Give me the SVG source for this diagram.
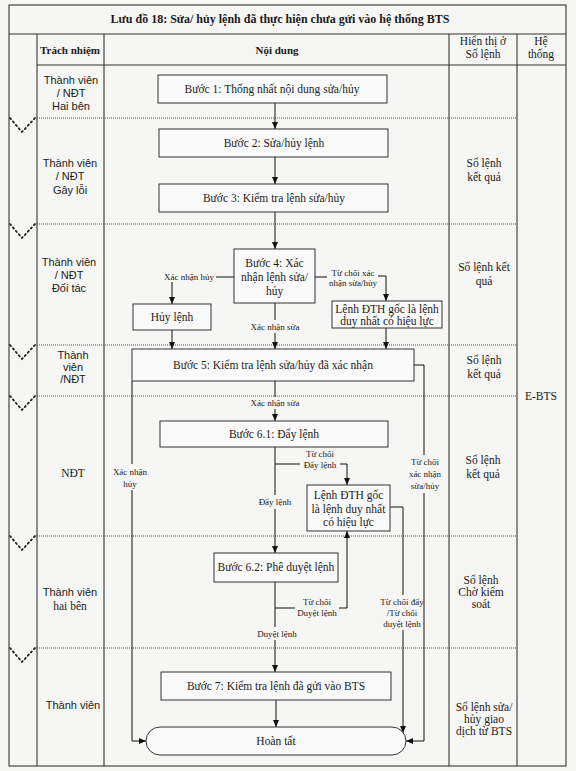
<svg xmlns="http://www.w3.org/2000/svg" width="576" height="771" viewBox="0 0 576 771">
<defs>
<marker id="arr" markerUnits="userSpaceOnUse" markerWidth="7" markerHeight="6" refX="7" refY="3" orient="auto">
<path d="M0,0 L7,3 L0,6 z" fill="#111"/>
</marker>
</defs>
<style>
.frame{fill:none;stroke:#333;stroke-width:1.1}
.row{fill:none;stroke:#555;stroke-width:1;stroke-dasharray:1 1}
.zig{fill:none;stroke:#222;stroke-width:1.8;stroke-dasharray:1.5 3;stroke-linecap:round}
.box{fill:#fafafa;stroke:#333;stroke-width:1}
.ln{fill:none;stroke:#111;stroke-width:1}
.a{marker-end:url(#arr)}
.t{font-family:"Liberation Serif","Times New Roman",serif;font-size:11.5px;fill:#1a1a1a;text-anchor:middle}
.s{font-family:"Liberation Serif","Times New Roman",serif;font-size:9px;fill:#1a1a1a;text-anchor:middle}
.c{font-family:"Liberation Sans",Arial,sans-serif;font-size:11px;fill:#1a1a1a;text-anchor:middle}
.cs{font-family:"Liberation Serif","Times New Roman",serif;font-size:11.5px;fill:#1a1a1a;text-anchor:middle}
.h{font-family:"Liberation Serif","Times New Roman",serif;font-size:11px;font-weight:bold;fill:#1a1a1a;text-anchor:middle}
.hr{font-family:"Liberation Serif","Times New Roman",serif;font-size:11.5px;fill:#1a1a1a;text-anchor:middle}
.ti{font-family:"Liberation Serif","Times New Roman",serif;font-size:12px;font-weight:bold;fill:#1a1a1a;text-anchor:middle}
</style>
<rect width="576" height="771" fill="#f6f6f4"/>
<g id="table">
<rect class="frame" x="9" y="5" width="557" height="761"/>
<line class="frame" x1="9" y1="34" x2="566" y2="34"/>
<line class="frame" x1="37" y1="65" x2="566" y2="65"/>
<line class="frame" x1="37" y1="34" x2="37" y2="766"/>
<line class="frame" x1="104" y1="34" x2="104" y2="766"/>
<line class="frame" x1="449" y1="34" x2="449" y2="766"/>
<line class="frame" x1="517" y1="34" x2="517" y2="766"/>
<line class="row" x1="37" y1="118" x2="517" y2="118"/>
<line class="row" x1="37" y1="224" x2="517" y2="224"/>
<line class="row" x1="37" y1="345" x2="517" y2="345"/>
<line class="row" x1="37" y1="396" x2="517" y2="396"/>
<line class="row" x1="37" y1="536" x2="517" y2="536"/>
<line class="row" x1="37" y1="648" x2="517" y2="648"/>
<polyline class="zig" points="10,118 22,132 35,118"/>
<polyline class="zig" points="10,224 22,238 35,224"/>
<polyline class="zig" points="10,345 22,359 35,345"/>
<polyline class="zig" points="10,396 22,410 35,396"/>
<polyline class="zig" points="10,536 22,550 35,536"/>
<polyline class="zig" points="10,648 22,662 35,648"/>
<text class="ti" x="280" y="23">Lưu đồ 18: Sửa/ hủy lệnh đã thực hiện chưa gửi vào hệ thống BTS</text>
<text class="h" x="70" y="54">Trách nhiệm</text>
<text class="h" x="277" y="54">Nội dung</text>
<text class="hr" x="483" y="45">Hiển thị ở</text>
<text class="hr" x="483" y="58">Số lệnh</text>
<text class="hr" x="541" y="45">Hệ</text>
<text class="hr" x="541" y="58">thống</text>
<text class="c" x="71" y="84">Thành viên</text>
<text class="c" x="71" y="97">/ NĐT</text>
<text class="c" x="71" y="110">Hai bên</text>
<text class="c" x="70" y="167">Thành viên</text>
<text class="c" x="70" y="180">/ NĐT</text>
<text class="c" x="70" y="194">Gây lỗi</text>
<text class="c" x="69" y="266">Thành viên</text>
<text class="c" x="69" y="279">/ NĐT</text>
<text class="c" x="69" y="292">Đối tác</text>
<text class="c" x="73" y="359">Thành</text>
<text class="c" x="73" y="371">viên</text>
<text class="c" x="73" y="383">/NĐT</text>
<text class="cs" x="73" y="477">NĐT</text>
<text class="c" x="70" y="596">Thành viên</text>
<text class="cs" x="70" y="610">hai bên</text>
<text class="c" x="73" y="709">Thành viên</text>
<text class="cs" x="484" y="167">Sổ lệnh</text>
<text class="cs" x="484" y="181">kết quả</text>
<text class="cs" x="484" y="271">Sổ lệnh kết</text>
<text class="cs" x="484" y="285">quả</text>
<text class="cs" x="484" y="364">Sổ lệnh</text>
<text class="cs" x="484" y="378">kết quả</text>
<text class="cs" x="483" y="464">Sổ lệnh</text>
<text class="cs" x="483" y="478">kết quả</text>
<text class="cs" x="481" y="584">Sổ lệnh</text>
<text class="cs" x="481" y="596">Chờ kiểm</text>
<text class="cs" x="481" y="608">soát</text>
<text class="cs" x="484" y="711">Sổ lệnh sửa/</text>
<text class="cs" x="484" y="723">hủy giao</text>
<text class="cs" x="484" y="735">dịch từ BTS</text>
<text class="cs" x="541" y="400">E-BTS</text>
</g>
<g id="connectors">
<path class="ln a" d="M275,103 V129"/>
<path class="ln a" d="M275,157 V184"/>
<path class="ln a" d="M275,212 V249"/>
<path class="ln" d="M234,277 H216"/>
<path class="ln a" d="M172,282 V304"/>
<text class="s" x="189" y="280">Xác nhận hủy</text>
<path class="ln" d="M315,277 H327"/>
<path class="ln a" d="M378,276 H386 V301"/>
<text class="s" x="353" y="276">Từ chối xác</text>
<text class="s" x="353" y="286">nhận sửa/hủy</text>
<path class="ln" d="M275,303 V320"/>
<path class="ln a" d="M275,333 V349"/>
<text class="s" x="275" y="330">Xác nhận sửa</text>
<path class="ln a" d="M172,330 V349"/>
<path class="ln a" d="M386,328 V349"/>
<path class="ln" d="M275,381 V397"/>
<path class="ln a" d="M275,409 V421"/>
<text class="s" x="275" y="406">Xác nhận sửa</text>
<path class="ln" d="M132,381 V464"/>
<path class="ln a" d="M132,490 V741 H146"/>
<text class="s" x="130" y="475">Xác nhận</text>
<text class="s" x="130" y="487">hủy</text>
<path class="ln" d="M414,365 H424 V455"/>
<path class="ln a" d="M424,493 V741 H406"/>
<text class="s" x="425" y="465">Từ chối</text>
<text class="s" x="425" y="477">xác nhận</text>
<text class="s" x="425" y="489">sửa/hủy</text>
<path class="ln" d="M390,507 H403 V595"/>
<path class="ln a" d="M403,630 V733"/>
<text class="s" x="402" y="605">Từ chối đẩy</text>
<text class="s" x="402" y="616">/Từ chối</text>
<text class="s" x="402" y="627">duyệt lệnh</text>
<path class="ln" d="M275,447 V495"/>
<path class="ln a" d="M275,509 V553"/>
<text class="s" x="275" y="505">Đẩy lệnh</text>
<path class="ln" d="M275,464 H300"/>
<path class="ln a" d="M340,464 H347 V485"/>
<text class="s" x="320" y="457">Từ chối</text>
<text class="s" x="320" y="468">Đẩy lệnh</text>
<path class="ln" d="M275,582 V627"/>
<path class="ln a" d="M275,640 V672"/>
<text class="s" x="277" y="637">Duyệt lệnh</text>
<path class="ln" d="M275,608 H295"/>
<path class="ln a" d="M339,608 H347 V531"/>
<text class="s" x="317" y="605">Từ chối</text>
<text class="s" x="317" y="616">Duyệt lệnh</text>
<path class="ln a" d="M276,700 V727"/>
</g>
<g id="b1"><rect class="box" x="158" y="75" width="229" height="28"/><text class="t" x="272" y="93">Bước 1: Thống nhất nội dung sửa/hủy</text></g>
<g id="b2"><rect class="box" x="159" y="129" width="229" height="28"/><text class="t" x="274" y="147">Bước 2: Sửa/hủy lệnh</text></g>
<g id="b3"><rect class="box" x="159" y="184" width="229" height="28"/><text class="t" x="274" y="202">Bước 3: Kiểm tra lệnh sửa/hủy</text></g>
<g id="b4"><rect class="box" x="234" y="249" width="81" height="54"/><text class="t" x="274.5" y="267">Bước 4: Xác</text><text class="t" x="274.5" y="281">nhận lệnh sửa/</text><text class="t" x="274.5" y="295">hủy</text></g>
<g id="huy"><rect class="box" x="133" y="304" width="78" height="26"/><text class="t" x="172" y="321">Hủy lệnh</text></g>
<g id="goc1"><rect class="box" x="332" y="301" width="110" height="27"/><text class="t" x="387" y="312.5">Lệnh ĐTH gốc là lệnh</text><text class="t" x="387" y="325">duy nhất có hiệu lực</text></g>
<g id="b5"><rect class="box" x="132" y="349" width="282" height="32"/><text class="t" x="273" y="369">Bước 5: Kiểm tra lệnh sửa/hủy đã xác nhận</text></g>
<g id="b61"><rect class="box" x="160" y="421" width="228" height="26"/><text class="t" x="274" y="438">Bước 6.1: Đẩy lệnh</text></g>
<g id="goc2"><rect class="box" x="307" y="485" width="83" height="46"/><text class="t" x="348.5" y="499">Lệnh ĐTH gốc</text><text class="t" x="348.5" y="512.5">là lệnh duy nhất</text><text class="t" x="348.5" y="526">có hiệu lực</text></g>
<g id="b62"><rect class="box" x="214" y="553" width="124" height="29"/><text class="t" x="276" y="571">Bước 6.2: Phê duyệt lệnh</text></g>
<g id="b7"><rect class="box" x="161" y="672" width="230" height="28"/><text class="t" x="276" y="690">Bước 7: Kiểm tra lệnh đã gửi vào BTS</text></g>
<g id="end"><rect class="box" x="146" y="727" width="260" height="28" rx="14" ry="14"/><text class="t" x="276" y="745">Hoàn tất</text></g>
</svg>
